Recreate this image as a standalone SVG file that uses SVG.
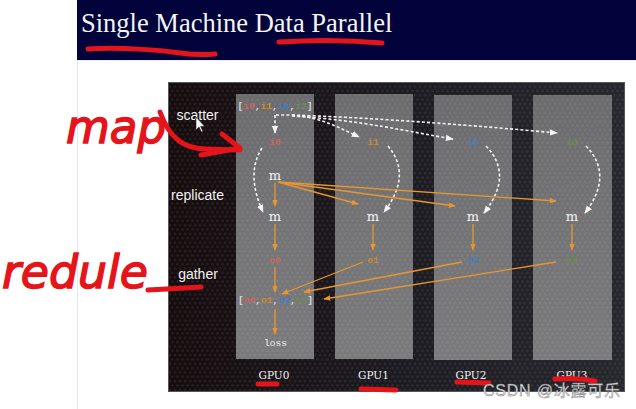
<svg xmlns="http://www.w3.org/2000/svg" width="636" height="409" viewBox="0 0 636 409">
<defs>
<style>
.lbl{font-family:"Liberation Sans",Arial,sans-serif;font-size:14px;fill:#f2f2f2;text-anchor:middle}
.mono{font-family:"Liberation Mono","Courier New",monospace;font-weight:bold;font-size:9.6px;text-anchor:middle}
.m{font-family:"DejaVu Serif",serif;font-size:13px;fill:#f5f5f5;text-anchor:middle}
.gpu{font-family:"DejaVu Serif",serif;font-size:10.5px;fill:#f2f2f2;text-anchor:middle}
.c0{fill:#c8675f}.c1{fill:#cc8a2e}.c2{fill:#3f7ec6}.c3{fill:#6e8c4c}.cb{fill:#d6d6d6}
.org{fill:none;stroke:#e8962e;stroke-width:1.3;marker-end:url(#ao)}
.wd{fill:none;stroke:#f4f4f4;stroke-width:1.6;stroke-dasharray:3 2.2;marker-end:url(#aw)}
.red{fill:none;stroke:#e5141b;stroke-width:5;stroke-linecap:round;stroke-linejoin:round}
.hand{font-family:"DejaVu Sans","Liberation Sans",sans-serif;font-style:italic;fill:#e5141b;stroke:#e5141b;stroke-width:1.5}
.col{fill:url(#colg)}
</style>
<linearGradient id="bgg" x1="0" y1="0" x2="1" y2="0">
<stop offset="0" stop-color="#150b0d"/><stop offset="0.5" stop-color="#1b1a20"/><stop offset="1" stop-color="#26272d"/>
</linearGradient>
<linearGradient id="colg" x1="0" y1="0" x2="0" y2="1">
<stop offset="0" stop-color="#6b6b6e"/><stop offset="1" stop-color="#7a7a7c"/>
</linearGradient>
<pattern id="hex" width="5" height="8.66" patternUnits="userSpaceOnUse">
<circle cx="0" cy="0" r="1.5" fill="#ffffff" fill-opacity="0.07"/>
<circle cx="2.5" cy="4.33" r="1.5" fill="#ffffff" fill-opacity="0.07"/>
<circle cx="5" cy="0" r="1.5" fill="#ffffff" fill-opacity="0.07"/>
<circle cx="0" cy="8.66" r="1.5" fill="#ffffff" fill-opacity="0.07"/>
<circle cx="5" cy="8.66" r="1.5" fill="#ffffff" fill-opacity="0.07"/>
</pattern>
<marker id="ao" viewBox="0 0 10 10" refX="9" refY="5" markerUnits="userSpaceOnUse" markerWidth="7" markerHeight="7" orient="auto">
<path d="M0,1 L10,5 L0,9 z" fill="#e8962e"/>
</marker>
<marker id="aw" viewBox="0 0 10 10" refX="9" refY="5" markerUnits="userSpaceOnUse" markerWidth="8" markerHeight="8" orient="auto">
<path d="M0,1 L10,5 L0,9 z" fill="#f4f4f4"/>
</marker>
</defs>

<rect width="636" height="409" fill="#ffffff"/>
<g id="titlebar">
<rect x="77" y="0" width="559" height="60" fill="#01033a"/>
<text x="81" y="32" font-family="'Liberation Serif','Times New Roman',serif" font-size="26.5" fill="#f4f4f4">Single Machine Data Parallel</text>
</g>
<line x1="77.5" y1="60" x2="77.5" y2="409" stroke="#e6e6e6" stroke-width="1"/>
<line x1="77" y1="60.5" x2="636" y2="60.5" stroke="#e8eef6" stroke-width="1"/>

<g id="panel">
<rect x="168" y="82" width="457" height="310" fill="url(#bgg)"/>
<rect x="168" y="82" width="457" height="310" fill="url(#hex)"/>
<rect x="168.5" y="82.5" width="456" height="309" fill="none" stroke="#55565b" stroke-width="1"/>
</g>

<g id="gpu0"><rect class="col" x="236" y="94" width="78" height="265"/><rect x="236" y="94" width="78" height="265" fill="url(#hex)"/><text class="gpu" x="274" y="379">GPU0</text></g>
<g id="gpu1"><rect class="col" x="335" y="94" width="78" height="265"/><rect x="335" y="94" width="78" height="265" fill="url(#hex)"/><text class="gpu" x="373.5" y="379">GPU1</text></g>
<g id="gpu2"><rect class="col" x="434" y="95" width="78" height="265"/><rect x="434" y="95" width="78" height="265" fill="url(#hex)"/><text class="gpu" x="471" y="379">GPU2</text></g>
<g id="gpu3"><rect class="col" x="533" y="95" width="79" height="265"/><rect x="533" y="95" width="79" height="265" fill="url(#hex)"/><text class="gpu" x="572" y="379">GPU3</text></g>

<g id="stage-labels">
<text class="lbl" x="197.5" y="120">scatter</text>
<text class="lbl" x="197.5" y="200">replicate</text>
<text class="lbl" x="198" y="279">gather</text>
<path d="M196,117 L196,130 L199,127 L201.5,132 L203,131.3 L200.6,126.4 L204.5,126.2 z" fill="#ffffff" stroke="#222" stroke-width="0.6"/>
</g>

<g id="connectors">
<path class="wd" d="M275,115 L275,133"/>
<path class="wd" d="M276,115 L292,115 C320,117 340,128 359,137"/>
<path class="wd" d="M292,116 C360,120 410,132 453,139"/>
<path class="wd" d="M292,115 C380,118 480,126 557,133"/>
<path class="wd" d="M262,148 Q245.5,174 263,212"/>
<path class="wd" d="M388,146 Q412.5,175 384,212"/>
<path class="wd" d="M486,146 Q514,175 484,213"/>
<path class="wd" d="M586,146 Q614,175 585,213"/>

<path class="org" d="M275,183 L275,206"/>
<path class="org" d="M278,182 L358,204"/>
<path class="org" d="M278,182 L455,206"/>
<path class="org" d="M278,182 L556,201"/>
<path class="org" d="M275,224 L275,250"/>
<path class="org" d="M373,224 L373,250"/>
<path class="org" d="M473,224 L473,250"/>
<path class="org" d="M572,224 L572,250"/>
<path class="org" d="M275,267 L275,292"/>
<path class="org" d="M363,262 L282,294"/>
<path class="org" d="M462,262 L304,292"/>
<path class="org" d="M556,262 L324,299"/>
<path class="org" d="M275,309 L275,334"/>
</g>

<g id="input-list"><text class="mono" x="275" y="109"><tspan class="cb">[</tspan><tspan class="c0">i0</tspan><tspan class="cb">,</tspan><tspan class="c1">i1</tspan><tspan class="cb">,</tspan><tspan class="c2">i2</tspan><tspan class="cb">,</tspan><tspan class="c3">i3</tspan><tspan class="cb">]</tspan></text></g>
<g id="i0"><text class="mono c0" x="275" y="144.5">i0</text></g>
<g id="i1"><text class="mono c1" x="373" y="144.5">i1</text></g>
<g id="i2"><text class="mono c2" x="473" y="144.5">i2</text></g>
<g id="i3"><text class="mono c3" x="572" y="144.5">i3</text></g>
<g id="m-src"><text class="m" x="275" y="180">m</text></g>
<g id="m0"><text class="m" x="275" y="221">m</text></g>
<g id="m1"><text class="m" x="373" y="221">m</text></g>
<g id="m2"><text class="m" x="473" y="221">m</text></g>
<g id="m3"><text class="m" x="572" y="221">m</text></g>
<g id="o0"><text class="mono c0" x="275" y="262.5">o0</text></g>
<g id="o1"><text class="mono c1" x="373" y="262.5">o1</text></g>
<g id="o2"><text class="mono c2" x="473" y="262.5">o2</text></g>
<g id="o3"><text class="mono c3" x="572" y="262.5">o3</text></g>
<g id="output-list"><text class="mono" x="275.5" y="303"><tspan class="cb">[</tspan><tspan class="c0">o0</tspan><tspan class="cb">,</tspan><tspan class="c1">o1</tspan><tspan class="cb">,</tspan><tspan class="c2">o2</tspan><tspan class="cb">,</tspan><tspan class="c3">o3</tspan><tspan class="cb">]</tspan></text></g>
<g id="loss"><text class="mono" x="275.5" y="346" style="fill:#eeeeee;font-weight:normal">loss</text></g>

<g id="annotations">
<path class="red" d="M88,49 C120,47 160,50 180,53 C195,55 205,55 215,54"/>
<path class="red" d="M279,42 C310,40 350,40 382,43"/>
<text class="hand" x="66" y="143" font-size="46" textLength="100" lengthAdjust="spacingAndGlyphs">map</text>
<path class="red" d="M160,112 C170,140 185,148 205,149 L240,150"/>
<path class="red" d="M222,134 L240,148 L201,155"/>
<text class="hand" x="2" y="288" font-size="46" textLength="146" lengthAdjust="spacingAndGlyphs">redule</text>
<path class="red" d="M148,290 C165,289 185,288 201,287"/>
<path class="red" d="M258,384 L277,384"/>
<path class="red" d="M361,389 L396,390"/>
<path class="red" d="M457,382 L489,383"/>
<path class="red" d="M555,379 C570,378 585,379 595,381"/>
</g>

<text x="483" y="396" font-family="'Liberation Sans','Noto Sans CJK SC',sans-serif" font-size="16" fill="#e2e2e2" stroke="#7a7a7a" stroke-width="0.4" textLength="137">CSDN @冰露可乐</text>
</svg>
